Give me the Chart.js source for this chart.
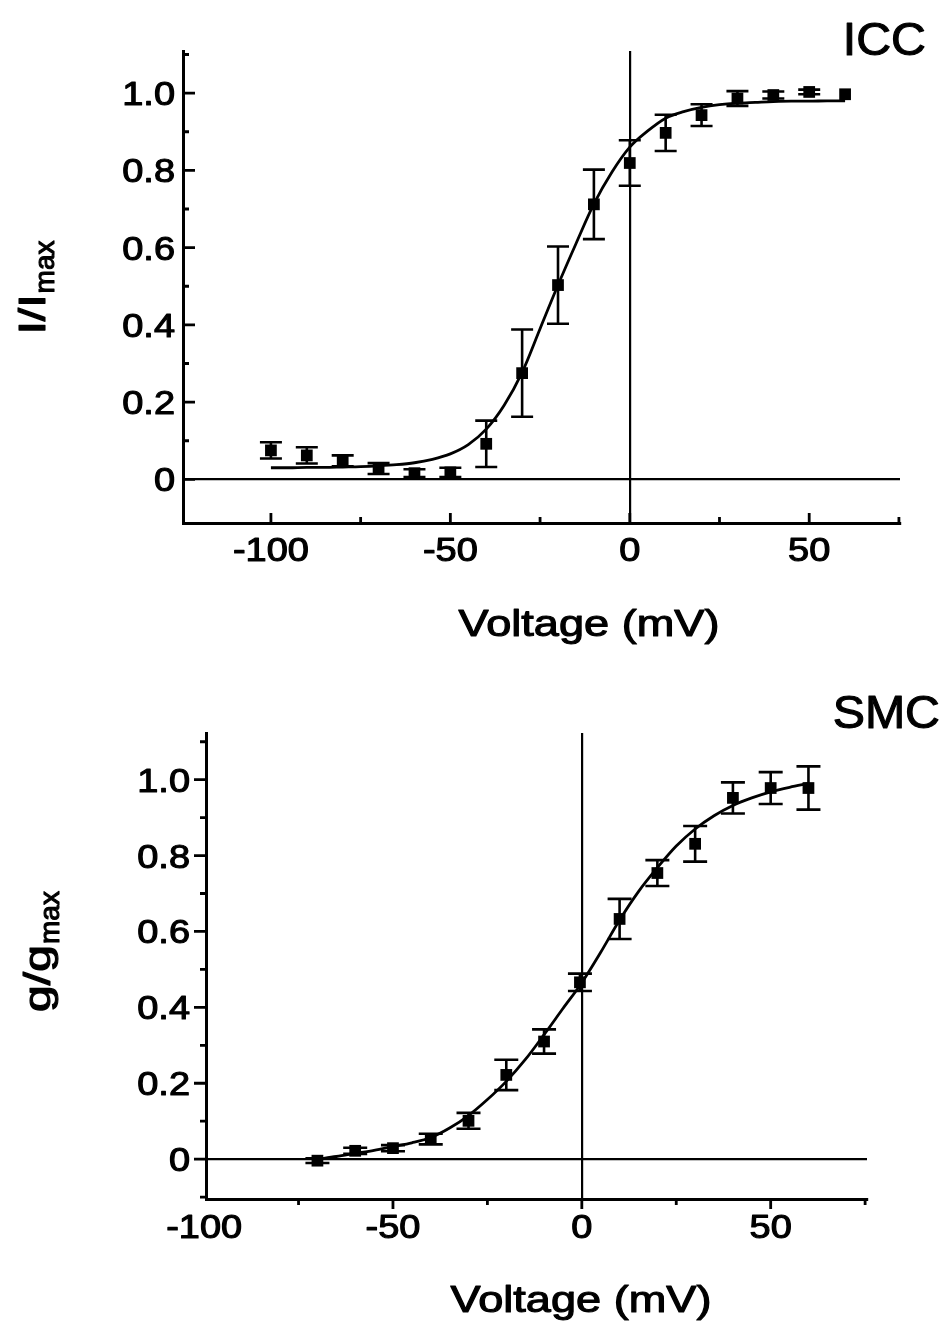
<!DOCTYPE html>
<html><head><meta charset="utf-8">
<script src="https://cdn.jsdelivr.net/npm/chart.js@4.4.1/dist/chart.umd.min.js"></script>
<style>
html,body{margin:0;padding:0;background:#fff;}
#wrap{position:relative;width:946px;height:1326px;overflow:hidden;}
canvas{position:absolute;left:0;}
#c1{top:0;}
#c2{top:660px;}
</style></head><body>
<div id="wrap"><canvas id="c1" width="946" height="660"></canvas><canvas id="c2" width="946" height="666"></canvas></div>
<script>
// ---------- data ----------
const iccVoltage = [-100,-90,-80,-70,-60,-50,-40,-30,-20,-10,0,10,20,30,40,50,60];
const iccMean = [0.075,0.062,0.048,0.028,0.016,0.018,0.092,0.275,0.503,0.712,0.819,0.897,0.943,0.986,0.995,1.003,0.997];
const iccErr  = [0.021,0.021,0.014,0.014,0.010,0.012,0.060,0.113,0.100,0.090,0.059,0.047,0.028,0.019,0.009,0.006,0.0];
const iccFitVoltage = [-100,-95,-90,-85,-80,-75,-70,-65,-60,-55,-50,-45,-40,-35,-30,-25,-20,-15,-10,-5,0,5,10,15,20,25,30,35,40,45,50,55,60];
const iccFit = [0.030,0.030,0.031,0.031,0.032,0.033,0.035,0.038,0.043,0.052,0.066,0.090,0.130,0.192,0.277,0.390,0.503,0.610,0.713,0.795,0.860,0.902,0.935,0.952,0.963,0.970,0.974,0.976,0.978,0.979,0.979,0.980,0.980];

const smcVoltage = [-70,-60,-50,-40,-30,-20,-10,-0.5,10,20,30,40,50,60];
const smcMean = [-0.004,0.022,0.029,0.053,0.101,0.222,0.310,0.466,0.633,0.754,0.831,0.952,0.978,0.978];
const smcErr  = [0.006,0.008,0.008,0.014,0.021,0.040,0.032,0.023,0.053,0.034,0.047,0.041,0.042,0.057];
const smcFitVoltage = [-70,-65,-60,-55,-50,-45,-40,-35,-30,-25,-20,-15,-10,-5,0,5,10,15,20,25,30,35,40,45,50,55,60];
const smcFit = [0.000,0.007,0.015,0.023,0.033,0.043,0.057,0.082,0.115,0.157,0.205,0.262,0.328,0.397,0.465,0.545,0.630,0.705,0.768,0.825,0.870,0.905,0.932,0.952,0.968,0.980,0.990];

const xMajorTicks = [-100,-50,0,50];
const xMajorLabels = ["-100","-50","0","50"];
const xMinorTicks = [-75,-25,25,75];
const yMajorTicks = [0,0.2,0.4,0.6,0.8,1.0];
const yMajorLabels = ["0","0.2","0.4","0.6","0.8","1.0"];
const yMinorTopTicks = [0.1,0.3,0.5,0.7,0.9,1.1];
const yMinorBottomTicks = [-0.1,0.1,0.3,0.5,0.7,0.9,1.1];

// ---------- helpers ----------
const FONT = '"Liberation Sans", Arial, Helvetica, sans-serif';
function txt(ctx, s, x, y, size, align, sx){
  ctx.save();
  ctx.font = size + 'px ' + FONT;
  ctx.fillStyle = '#000';
  ctx.strokeStyle = '#000';
  ctx.lineWidth = 1.1;
  ctx.lineJoin = 'round';
  ctx.textBaseline = 'alphabetic';
  ctx.textAlign = 'left';
  const w = ctx.measureText(s).width * sx;
  const x0 = align === 'center' ? x - w/2 : (align === 'right' ? x - w : x);
  ctx.translate(x0, y);
  ctx.scale(sx, 1);
  ctx.fillText(s, 0, 0);
  ctx.strokeText(s, 0, 0);
  ctx.restore();
}

function makeDeco(cfg){
  return {
    id: 'deco',
    afterDatasetsDraw(chart){
      const ctx = chart.ctx, xs = chart.scales.x, ys = chart.scales.y;
      ctx.save();
      ctx.strokeStyle = '#000';
      ctx.lineWidth = 2.6;
      cfg.vx.forEach((v, i) => {
        const e = cfg.err[i];
        if (!e) return;
        const px = xs.getPixelForValue(v);
        const y1 = ys.getPixelForValue(cfg.mean[i] + e);
        const y2 = ys.getPixelForValue(cfg.mean[i] - e);
        ctx.beginPath();
        ctx.moveTo(px, y1); ctx.lineTo(px, y2);
        ctx.moveTo(px - cfg.cap, y1); ctx.lineTo(px + cfg.cap, y1);
        ctx.moveTo(px - cfg.cap, y2); ctx.lineTo(px + cfg.cap, y2);
        ctx.stroke();
      });
      ctx.restore();
    },
    afterDraw(chart){
      const ctx = chart.ctx, xs = chart.scales.x, ys = chart.scales.y, a = chart.chartArea;
      const dir = cfg.inward ? 1 : -1;
      ctx.save();
      ctx.strokeStyle = '#000';
      ctx.lineWidth = 2.8;
      ctx.beginPath();
      yMajorTicks.forEach(v => { const p = ys.getPixelForValue(v); ctx.moveTo(a.left, p); ctx.lineTo(a.left + dir*12, p); });
      cfg.yMinor.forEach(v => { const p = ys.getPixelForValue(v); ctx.moveTo(a.left, p); ctx.lineTo(a.left + dir*6, p); });
      xMajorTicks.forEach(v => { const p = xs.getPixelForValue(v); if (p < a.left-1 || p > a.right+1) return; ctx.moveTo(p, a.bottom); ctx.lineTo(p, a.bottom - dir*10); });
      xMinorTicks.forEach(v => { const p = xs.getPixelForValue(v); if (p < a.left-1 || p > a.right+1) return; ctx.moveTo(p, a.bottom); ctx.lineTo(p, a.bottom - dir*6); });
      ctx.stroke();
      ctx.restore();
      // tick labels
      yMajorTicks.forEach((v, i) => {
        const p = ys.getPixelForValue(v);
        txt(ctx, yMajorLabels[i], a.left - cfg.yLabelGap, p + 12, 33, 'right', 1.15);
      });
      xMajorTicks.forEach((v, i) => {
        const p = xs.getPixelForValue(v);
        txt(ctx, xMajorLabels[i], p, a.bottom + cfg.xLabelDrop, 33, 'center', 1.15);
      });
      // x title
      txt(ctx, 'Voltage (mV)', cfg.xTitleX, cfg.xTitleY, 37, 'center', 1.22);
      // panel label
      txt(ctx, cfg.panel, cfg.panelX, cfg.panelY, 46, 'right', 1.05);
      // y title with subscript (rotated)
      ctx.save();
      ctx.font = '37px ' + FONT;
      const mainW = ctx.measureText(cfg.yMain).width * 1.3;
      ctx.font = '28px ' + FONT;
      const subW = ctx.measureText('max').width;
      const start = -(mainW + subW) / 2;
      ctx.translate(cfg.yTitleX, cfg.yTitleY);
      ctx.rotate(-Math.PI/2);
      txt(ctx, cfg.yMain, start, 0, 37, 'left', 1.3);
      txt(ctx, 'max', start + mainW + 1, 9, 28, 'left', 1.0);
      ctx.restore();
    }
  };
}

function makeChart(id, cfg){
  const pts = cfg.vx.map((v, i) => ({x: v, y: cfg.mean[i]}));
  const fit = cfg.fitV.map((v, i) => ({x: v, y: cfg.fit[i]}));
  return new Chart(document.getElementById(id), {
    type: 'line',
    data: { datasets: [
      { data: fit, borderColor: '#000', borderWidth: 2.8, pointRadius: 0, fill: false, cubicInterpolationMode: 'monotone' },
      { data: pts, showLine: false, pointStyle: 'rect', pointRadius: 8.3, backgroundColor: '#000', borderWidth: 0 }
    ]},
    options: {
      responsive: false, animation: false, devicePixelRatio: 1,
      layout: { padding: cfg.pad },
      plugins: { legend: { display: false }, tooltip: { enabled: false } },
      scales: {
        x: { type: 'linear', min: cfg.xr[0], max: cfg.xr[1],
             afterBuildTicks(s){ s.ticks = [{value: 0}]; },
             afterFit(s){ s.height = 0; },
             ticks: { display: false },
             grid: { display: true, color: '#000', lineWidth: 2.2, drawTicks: false },
             border: { display: true, color: '#000', width: 3 } },
        y: { type: 'linear', min: cfg.yr[0], max: cfg.yr[1],
             afterBuildTicks(s){ s.ticks = [{value: 0}]; },
             afterFit(s){ s.width = 0; },
             ticks: { display: false },
             grid: { display: true, color: '#000', lineWidth: 2.2, drawTicks: false },
             border: { display: true, color: '#000', width: 3 } }
      }
    },
    plugins: [makeDeco(cfg)]
  });
}

makeChart('c1', {
  vx: iccVoltage, mean: iccMean, err: iccErr, fitV: iccFitVoltage, fit: iccFit,
  xr: [-124.5, 75.3], yr: [-0.113, 1.109],
  pad: { left: 183, right: 46, top: 51, bottom: 137 },
  cap: 11, inward: true, yMinor: yMinorTopTicks,
  yLabelGap: 8, xLabelDrop: 38,
  xTitleX: 589, xTitleY: 636,
  panel: 'ICC', panelX: 926, panelY: 55,
  yMain: 'I/I', yTitleX: 45, yTitleY: 288
});
makeChart('c2', {
  vx: smcVoltage, mean: smcMean, err: smcErr, fitV: smcFitVoltage, fit: smcFit,
  xr: [-99.5, 75.5], yr: [-0.105, 1.123],
  pad: { left: 206, right: 79, top: 73, bottom: 127 },
  cap: 12, inward: false, yMinor: yMinorBottomTicks,
  yLabelGap: 16, xLabelDrop: 39,
  xTitleX: 581, xTitleY: 652,
  panel: 'SMC', panelX: 940, panelY: 68,
  yMain: 'g/g', yTitleX: 50, yTitleY: 292
});
</script>
</body></html>
